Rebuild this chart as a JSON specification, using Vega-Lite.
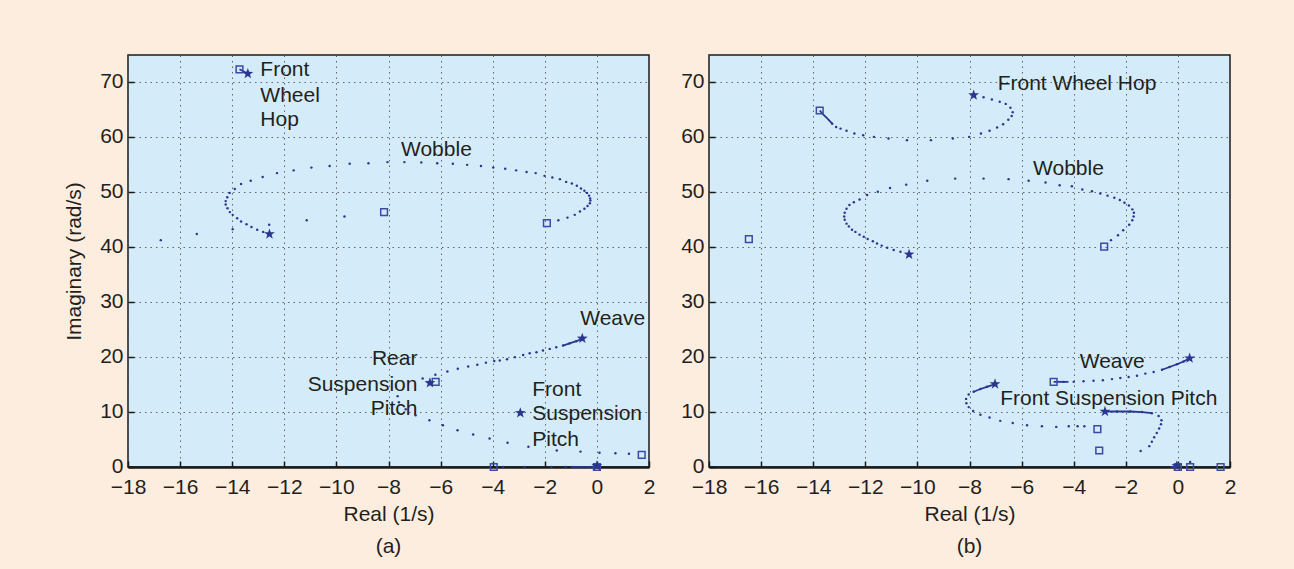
{
  "$schema": "https://vega.github.io/schema/vega-lite/v6.json",
  "background": "#fdeddf",
  "padding": {"left": 62, "top": 54, "right": 60, "bottom": 20},
  "spacing": 23,
  "config": {
    "view": {"fill": "#d4ecf9", "stroke": "#1a1a1a", "strokeWidth": 1.5},
    "axis": {
      "labelFont": "Liberation Sans", "labelFontSize": 21, "labelColor": "#231f20", "labelFlush": false,
      "titleFont": "Liberation Sans", "titleFontSize": 21, "titleFontWeight": "normal", "titleColor": "#231f20",
      "domain": false, "grid": true, "gridColor": "#555555", "gridDash": [1.5, 4], "gridWidth": 1, "gridOpacity": 0.9,
      "ticks": true, "tickSize": -6, "tickColor": "#1a1a1a", "tickWidth": 1.5, "labelPadding": 11
    },
    "axisX": {"titlePadding": 6, "domain": true, "domainColor": "#1a1a1a", "domainWidth": 2.5, "labelPadding": 15},
    "axisY": {"titlePadding": 15, "labelOffset": -1},
    "title": {"font": "Liberation Sans", "fontSize": 21, "fontWeight": "normal", "color": "#231f20"},
    "text": {"font": "Liberation Sans", "fontSize": 21, "color": "#231f20", "baseline": "middle"}
  },
  "datasets": {
    "dotsA": [
      {"re": -12.81, "im": 42.8}, {"re": -13.04, "im": 43.2}, {"re": -13.26, "im": 43.7}, {"re": -13.45, "im": 44.2}, {"re": -13.66, "im": 44.7},
      {"re": -13.81, "im": 45.3}, {"re": -13.98, "im": 45.9}, {"re": -14.09, "im": 46.4}, {"re": -14.18, "im": 47.1}, {"re": -14.25, "im": 47.8},
      {"re": -14.25, "im": 48.4}, {"re": -14.19, "im": 49.1}, {"re": -14.1, "im": 49.9}, {"re": -13.9, "im": 50.6}, {"re": -13.66, "im": 51.5},
      {"re": -13.29, "im": 52.1}, {"re": -12.83, "im": 52.8}, {"re": -12.28, "im": 53.5}, {"re": -11.64, "im": 54.0}, {"re": -10.96, "im": 54.5},
      {"re": -10.26, "im": 54.8}, {"re": -9.49, "im": 55.2}, {"re": -8.77, "im": 55.3}, {"re": -8.04, "im": 55.5}, {"re": -7.39, "im": 55.5},
      {"re": -6.74, "im": 55.45}, {"re": -6.13, "im": 55.3}, {"re": -5.53, "im": 55.2}, {"re": -4.98, "im": 55.0}, {"re": -4.45, "im": 54.8},
      {"re": -3.98, "im": 54.5}, {"re": -3.52, "im": 54.3}, {"re": -3.1, "im": 54.0}, {"re": -2.7, "im": 53.7}, {"re": -2.35, "im": 53.5},
      {"re": -2.01, "im": 53.0}, {"re": -1.71, "im": 52.7}, {"re": -1.42, "im": 52.4}, {"re": -1.18, "im": 51.9}, {"re": -0.96, "im": 51.6},
      {"re": -0.77, "im": 51.2}, {"re": -0.61, "im": 50.7}, {"re": -0.48, "im": 50.3}, {"re": -0.38, "im": 49.9}, {"re": -0.3, "im": 49.4},
      {"re": -0.26, "im": 48.9}, {"re": -0.25, "im": 48.5}, {"re": -0.27, "im": 48.0}, {"re": -0.36, "im": 47.5}, {"re": -0.48, "im": 47.0},
      {"re": -0.65, "im": 46.5}, {"re": -0.85, "im": 45.9}, {"re": -1.13, "im": 45.4}, {"re": -1.48, "im": 44.9},
      {"re": -16.74, "im": 41.3}, {"re": -15.36, "im": 42.4}, {"re": -13.98, "im": 43.3}, {"re": -12.58, "im": 44.1}, {"re": -11.14, "im": 44.9}, {"re": -9.69, "im": 45.6},
      {"re": -0.79, "im": 22.9}, {"re": -1.05, "im": 22.5}, {"re": -1.3, "im": 22.1}, {"re": -1.56, "im": 21.8}, {"re": -1.81, "im": 21.5},
      {"re": -2.07, "im": 21.2}, {"re": -2.32, "im": 20.9}, {"re": -2.58, "im": 20.7}, {"re": -2.83, "im": 20.4}, {"re": -3.15, "im": 20.0},
      {"re": -3.45, "im": 19.6}, {"re": -3.73, "im": 19.4}, {"re": -3.94, "im": 19.3}, {"re": -4.26, "im": 19.0}, {"re": -4.59, "im": 18.6},
      {"re": -4.94, "im": 18.3}, {"re": -5.34, "im": 17.9}, {"re": -5.74, "im": 17.4}, {"re": -6.2, "im": 16.8},
      {"re": -6.69, "im": 16.1}, {"re": -7.65, "im": 12.9}, {"re": -7.6, "im": 11.8}, {"re": -7.34, "im": 10.5}, {"re": -6.96, "im": 9.4},
      {"re": -6.43, "im": 8.5}, {"re": -5.91, "im": 7.6}, {"re": -5.35, "im": 6.7}, {"re": -4.75, "im": 5.9}, {"re": -4.12, "im": 5.2},
      {"re": -3.43, "im": 4.4}, {"re": -2.63, "im": 3.7}, {"re": -1.54, "im": 3.0}, {"re": -0.63, "im": 2.8}, {"re": 0.1, "im": 2.6},
      {"re": 0.71, "im": 2.5}, {"re": 1.23, "im": 2.4},
      {"re": -3.6, "im": 0}, {"re": -2.78, "im": 0}, {"re": -1.75, "im": 0}, {"re": -1.2, "im": 0}, {"re": -0.93, "im": 0}
    ],
    "linesA": [
      {"seg": "fwh", "ord": 1, "re": -13.72, "im": 72.4}, {"seg": "fwh", "ord": 2, "re": -13.4, "im": 71.6},
      {"seg": "weave", "ord": 1, "re": -0.56, "im": 23.4}, {"seg": "weave", "ord": 2, "re": -0.79, "im": 22.9}, {"seg": "weave", "ord": 3, "re": -1.05, "im": 22.5}, {"seg": "weave", "ord": 4, "re": -1.3, "im": 22.1},
      {"seg": "real", "ord": 1, "re": -1.0, "im": 0}, {"seg": "real", "ord": 2, "re": 0, "im": 0}
    ],
    "squaresA": [
      {"re": -13.72, "im": 72.4}, {"re": -8.17, "im": 46.4}, {"re": -1.92, "im": 44.4}, {"re": -6.19, "im": 15.5},
      {"re": -3.96, "im": 0}, {"re": 1.72, "im": 2.2}, {"re": 0, "im": 0}
    ],
    "starsA": [
      {"re": -13.4, "im": 71.6}, {"re": -12.57, "im": 42.4}, {"re": -0.56, "im": 23.4}, {"re": -6.41, "im": 15.3},
      {"re": -2.94, "im": 9.85}, {"re": 0, "im": 0.2}
    ],
    "labelsA_left": [
      {"t": "Front", "re": -12.92, "im": 72.2}, {"t": "Wheel", "re": -12.92, "im": 67.6}, {"t": "Hop", "re": -12.92, "im": 63.1},
      {"t": "Wobble", "re": -7.52, "im": 57.7}, {"t": "Weave", "re": -0.64, "im": 26.9},
      {"t": "Front", "re": -2.48, "im": 14.1}, {"t": "Suspension", "re": -2.48, "im": 9.7}, {"t": "Pitch", "re": -2.48, "im": 5.0}
    ],
    "labelsA_right": [
      {"t": "Rear", "re": -6.89, "im": 19.6}, {"t": "Suspension", "re": -6.89, "im": 14.9}, {"t": "Pitch", "re": -6.89, "im": 10.6}
    ],
    "dotsB": [
      {"re": -7.46, "im": 67.3}, {"re": -7.14, "im": 66.9}, {"re": -6.84, "im": 66.5}, {"re": -6.61, "im": 66.1}, {"re": -6.43, "im": 65.4},
      {"re": -6.34, "im": 64.6}, {"re": -6.38, "im": 63.9}, {"re": -6.51, "im": 63.2}, {"re": -6.71, "im": 62.4}, {"re": -6.94, "im": 61.8},
      {"re": -7.23, "im": 61.2}, {"re": -7.56, "im": 60.7}, {"re": -8.01, "im": 60.1}, {"re": -8.64, "im": 59.8}, {"re": -9.48, "im": 59.5},
      {"re": -10.4, "im": 59.5}, {"re": -11.11, "im": 59.8}, {"re": -11.67, "im": 60.1}, {"re": -12.08, "im": 60.4}, {"re": -12.42, "im": 60.7},
      {"re": -12.72, "im": 61.2}, {"re": -12.95, "im": 61.6}, {"re": -13.12, "im": 61.9}, {"re": -13.27, "im": 62.5},
      {"re": -10.65, "im": 39.2}, {"re": -10.91, "im": 39.5}, {"re": -11.16, "im": 39.9}, {"re": -11.37, "im": 40.3}, {"re": -11.55, "im": 40.7},
      {"re": -11.71, "im": 41.1}, {"re": -11.91, "im": 41.5}, {"re": -12.06, "im": 41.9}, {"re": -12.22, "im": 42.3}, {"re": -12.38, "im": 42.8},
      {"re": -12.51, "im": 43.2}, {"re": -12.63, "im": 43.8}, {"re": -12.72, "im": 44.3}, {"re": -12.79, "im": 45.0}, {"re": -12.81, "im": 45.6},
      {"re": -12.79, "im": 46.3}, {"re": -12.72, "im": 47.0}, {"re": -12.61, "im": 47.7}, {"re": -12.44, "im": 48.2}, {"re": -12.22, "im": 48.7},
      {"re": -11.93, "im": 49.5}, {"re": -11.52, "im": 50.1}, {"re": -11.05, "im": 50.8}, {"re": -10.43, "im": 51.4}, {"re": -9.62, "im": 52.1},
      {"re": -8.55, "im": 52.5}, {"re": -7.46, "im": 52.5}, {"re": -6.5, "im": 52.4}, {"re": -5.73, "im": 52.1}, {"re": -5.08, "im": 51.8},
      {"re": -4.54, "im": 51.3}, {"re": -4.07, "im": 51.1}, {"re": -3.67, "im": 50.5}, {"re": -3.3, "im": 50.2}, {"re": -2.98, "im": 49.8},
      {"re": -2.7, "im": 49.4}, {"re": -2.44, "im": 49.0}, {"re": -2.23, "im": 48.6}, {"re": -2.05, "im": 48.1}, {"re": -1.88, "im": 47.6},
      {"re": -1.75, "im": 46.9}, {"re": -1.69, "im": 46.3}, {"re": -1.7, "im": 45.6}, {"re": -1.75, "im": 44.9}, {"re": -1.87, "im": 44.1},
      {"re": -2.1, "im": 43.1}, {"re": -2.3, "im": 42.2}, {"re": -2.57, "im": 41.3},
      {"re": 0.22, "im": 19.2}, {"re": -0.04, "im": 18.7}, {"re": -0.32, "im": 18.2}, {"re": -0.61, "im": 17.7}, {"re": -0.93, "im": 17.3},
      {"re": -1.25, "im": 17.0}, {"re": -1.57, "im": 16.6}, {"re": -1.89, "im": 16.4}, {"re": -2.21, "im": 16.2}, {"re": -2.53, "im": 16.0},
      {"re": -2.88, "im": 15.8}, {"re": -3.24, "im": 15.7}, {"re": -3.62, "im": 15.6}, {"re": -4.0, "im": 15.5}, {"re": -4.39, "im": 15.5},
      {"re": -7.33, "im": 14.6}, {"re": -7.58, "im": 14.2}, {"re": -7.84, "im": 13.7}, {"re": -8.03, "im": 13.2}, {"re": -8.13, "im": 12.4},
      {"re": -8.12, "im": 11.6}, {"re": -8.03, "im": 10.9}, {"re": -7.86, "im": 10.2}, {"re": -7.58, "im": 9.5}, {"re": -7.23, "im": 9.0},
      {"re": -6.82, "im": 8.4}, {"re": -6.34, "im": 8.0}, {"re": -5.79, "im": 7.6}, {"re": -5.22, "im": 7.4}, {"re": -4.67, "im": 7.3},
      {"re": -4.19, "im": 7.4}, {"re": -3.85, "im": 7.4}, {"re": -3.59, "im": 7.4},
      {"re": -2.34, "im": 10.1}, {"re": -1.83, "im": 10.1}, {"re": -1.38, "im": 10.0}, {"re": -1.0, "im": 9.8}, {"re": -0.74, "im": 9.3},
      {"re": -0.63, "im": 8.5}, {"re": -0.65, "im": 7.8}, {"re": -0.72, "im": 7.0}, {"re": -0.81, "im": 6.2}, {"re": -0.91, "im": 5.4},
      {"re": -1.0, "im": 4.6}, {"re": -1.1, "im": 3.8}, {"re": -1.43, "im": 2.9},
      {"re": 0.47, "im": 0.9}
    ],
    "linesB": [
      {"seg": "fwh", "ord": 1, "re": -13.75, "im": 64.9}, {"seg": "fwh", "ord": 2, "re": -13.62, "im": 64.2}, {"seg": "fwh", "ord": 3, "re": -13.47, "im": 63.5}, {"seg": "fwh", "ord": 4, "re": -13.27, "im": 62.5},
      {"seg": "weave", "ord": 1, "re": 0.45, "im": 19.8}, {"seg": "weave", "ord": 2, "re": 0.22, "im": 19.2}, {"seg": "weave", "ord": 3, "re": -0.04, "im": 18.7}, {"seg": "weave", "ord": 4, "re": -0.32, "im": 18.2}, {"seg": "weave", "ord": 5, "re": -0.61, "im": 17.7},
      {"seg": "weave2", "ord": 1, "re": -4.77, "im": 15.5}, {"seg": "weave2", "ord": 2, "re": -4.2, "im": 15.5},
      {"seg": "rsp", "ord": 1, "re": -7.02, "im": 15.1}, {"seg": "rsp", "ord": 2, "re": -7.33, "im": 14.6}, {"seg": "rsp", "ord": 3, "re": -7.58, "im": 14.2}, {"seg": "rsp", "ord": 4, "re": -7.84, "im": 13.7},
      {"seg": "fsp", "ord": 1, "re": -2.8, "im": 10.1}, {"seg": "fsp", "ord": 2, "re": -2.34, "im": 10.1}, {"seg": "fsp", "ord": 3, "re": -1.83, "im": 10.1}, {"seg": "fsp", "ord": 4, "re": -1.38, "im": 10.0}, {"seg": "fsp", "ord": 5, "re": -1.0, "im": 9.8},
      {"seg": "real", "ord": 1, "re": -0.3, "im": 0}, {"seg": "real", "ord": 2, "re": 0.1, "im": 0}
    ],
    "squaresB": [
      {"re": -13.75, "im": 64.9}, {"re": -2.83, "im": 40.1}, {"re": -16.47, "im": 41.5}, {"re": -4.77, "im": 15.5},
      {"re": -3.09, "im": 6.9}, {"re": -3.02, "im": 3.0}, {"re": 0.47, "im": 0}, {"re": 1.64, "im": 0}, {"re": 0, "im": 0}
    ],
    "starsB": [
      {"re": -7.84, "im": 67.7}, {"re": -10.32, "im": 38.7}, {"re": 0.45, "im": 19.8}, {"re": -7.02, "im": 15.1},
      {"re": -2.8, "im": 10.1}, {"re": -0.04, "im": 0.2}
    ],
    "labelsB_left": [
      {"t": "Front Wheel Hop", "re": -6.92, "im": 69.8}, {"t": "Wobble", "re": -5.56, "im": 54.2},
      {"t": "Weave", "re": -3.77, "im": 19.2}, {"t": "Front Suspension Pitch", "re": -6.82, "im": 12.4}
    ]
  },
  "hconcat": [
    {
      "width": 521, "height": 412,
      "title": {"text": "(a)", "orient": "bottom", "anchor": "middle", "offset": 12},
      "encoding": {
        "x": {"field": "re", "type": "quantitative", "scale": {"domain": [-18, 2], "nice": false, "zero": false},
              "axis": {"title": "Real (1/s)", "values": [-18, -16, -14, -12, -10, -8, -6, -4, -2, 0, 2]}},
        "y": {"field": "im", "type": "quantitative", "scale": {"domain": [0, 75], "nice": false, "zero": false},
              "axis": {"title": "Imaginary (rad/s)", "values": [0, 10, 20, 30, 40, 50, 60, 70]}}
      },
      "layer": [
        {"data": {"name": "linesA"}, "mark": {"type": "line", "color": "#2b3590", "strokeWidth": 1.8}, "encoding": {"detail": {"field": "seg"}, "order": {"field": "ord"}}},
        {"data": {"name": "dotsA"}, "mark": {"type": "circle", "size": 6, "color": "#2b3590", "opacity": 1}},
        {"data": {"name": "squaresA"}, "mark": {"type": "point", "shape": "square", "size": 45, "filled": false, "stroke": "#3a4aa8", "strokeWidth": 1.5, "opacity": 1}},
        {"data": {"name": "starsA"}, "mark": {"type": "point", "shape": "M0,-1L0.235,-0.324L0.951,-0.309L0.38,0.124L0.588,0.809L0,0.4L-0.588,0.809L-0.38,0.124L-0.951,-0.309L-0.235,-0.324Z", "size": 130, "filled": true, "color": "#2b3590", "opacity": 1}},
        {"data": {"name": "labelsA_left"}, "mark": {"type": "text", "align": "left"}, "encoding": {"text": {"field": "t"}}},
        {"data": {"name": "labelsA_right"}, "mark": {"type": "text", "align": "right"}, "encoding": {"text": {"field": "t"}}}
      ]
    },
    {
      "width": 521, "height": 412,
      "title": {"text": "(b)", "orient": "bottom", "anchor": "middle", "offset": 12},
      "encoding": {
        "x": {"field": "re", "type": "quantitative", "scale": {"domain": [-18, 2], "nice": false, "zero": false},
              "axis": {"title": "Real (1/s)", "values": [-18, -16, -14, -12, -10, -8, -6, -4, -2, 0, 2]}},
        "y": {"field": "im", "type": "quantitative", "scale": {"domain": [0, 75], "nice": false, "zero": false},
              "axis": {"title": null, "values": [0, 10, 20, 30, 40, 50, 60, 70]}}
      },
      "layer": [
        {"data": {"name": "linesB"}, "mark": {"type": "line", "color": "#2b3590", "strokeWidth": 1.8}, "encoding": {"detail": {"field": "seg"}, "order": {"field": "ord"}}},
        {"data": {"name": "dotsB"}, "mark": {"type": "circle", "size": 6, "color": "#2b3590", "opacity": 1}},
        {"data": {"name": "squaresB"}, "mark": {"type": "point", "shape": "square", "size": 45, "filled": false, "stroke": "#3a4aa8", "strokeWidth": 1.5, "opacity": 1}},
        {"data": {"name": "starsB"}, "mark": {"type": "point", "shape": "M0,-1L0.235,-0.324L0.951,-0.309L0.38,0.124L0.588,0.809L0,0.4L-0.588,0.809L-0.38,0.124L-0.951,-0.309L-0.235,-0.324Z", "size": 130, "filled": true, "color": "#2b3590", "opacity": 1}},
        {"data": {"name": "labelsB_left"}, "mark": {"type": "text", "align": "left"}, "encoding": {"text": {"field": "t"}}}
      ]
    }
  ]
}
